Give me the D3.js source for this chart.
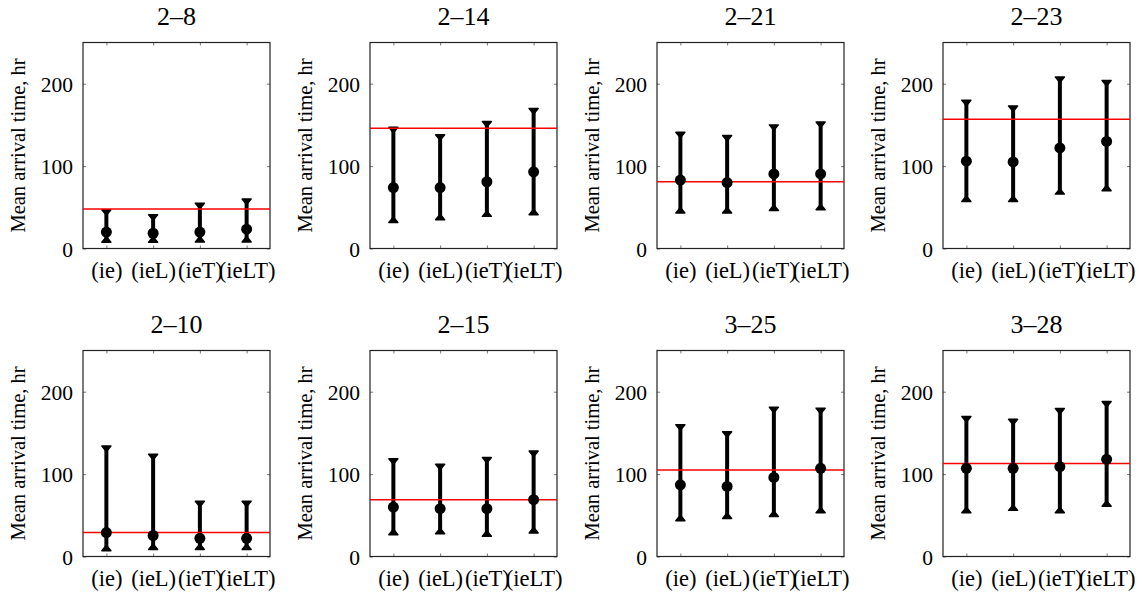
<!DOCTYPE html>
<html>
<head>
<meta charset="utf-8">
<script src="https://cdn.jsdelivr.net/npm/d3@7"></script>
<style>
  html, body { margin: 0; padding: 0; background: #fff; }
  svg { display: block; }
  text { font-family: "Liberation Serif", "Times New Roman", serif; fill: #000; }
</style>
</head>
<body>
<svg id="chart" width="1143" height="595"></svg>
<script>
// ---- data ----
const categories = ["(ie)", "(ieL)", "(ieT)", "(ieLT)"];
const panelTitles = ["2\u20138", "2\u201314", "2\u201321", "2\u201323", "2\u201310", "2\u201315", "3\u201325", "3\u201328"];
const meanValues = [
  [20, 18.5, 20, 23.5],
  [74, 74, 81, 93],
  [83, 80, 90.5, 90.5],
  [106, 105, 122, 130],
  [29, 25.5, 22, 22],
  [60, 58, 58, 69],
  [87, 85, 96, 107],
  [107, 107, 109, 118]
];
const lowerValues = [
  [7.5, 7.5, 8, 8],
  [31.5, 35, 39, 41],
  [43, 43, 46, 47],
  [57, 57, 66, 70],
  [7, 8.5, 8.5, 8.5],
  [26.5, 27.5, 24.5, 28.5],
  [43.5, 46, 48.5, 53],
  [53, 56, 53, 61]
];
const upperValues = [
  [47, 41, 55, 60],
  [147, 138, 154, 170],
  [141, 137, 150, 153.5],
  [180, 173, 208, 204],
  [134, 124, 67, 67],
  [118.5, 112, 120, 128],
  [160, 151.5, 181, 180],
  [170, 166.5, 179.5, 188]
];
const referenceValues = [48, 146, 81, 157, 29, 69, 105, 113];
const yTicks = [0, 100, 200];
const yLabel = "Mean arrival time, hr";

// ---- layout ----
const svg = d3.select("#chart");
const boxW = 187, boxH = 206;
const colLeft = [83, 370, 657, 943];
const rowTop = [42.5, 350.5];

const x = d3.scalePoint().domain(categories).range([boxW / 8, boxW - boxW / 8]);
const y = d3.scaleLinear().domain([0, 250]).range([boxH, 0]);

panelTitles.forEach((title, p) => {
  const col = p % 4, row = Math.floor(p / 4);
  const g = svg.append("g").attr("transform", `translate(${colLeft[col]},${rowTop[row]})`);

  // axes with inward ticks
  const tickCol = "#555";
  const ax = g.append("g").attr("transform", `translate(0,${boxH})`)
    .call(d3.axisBottom(x).tickSize(-3).tickPadding(0));
  ax.selectAll("text").attr("y", 29).attr("dy", 0).style("font-size", "22.5px");
  g.append("g").call(d3.axisTop(x).tickSize(-3).tickFormat(""));
  const ay = g.append("g").call(d3.axisLeft(y).tickValues(yTicks).tickSize(-3).tickPadding(10));
  ay.selectAll("text").attr("dy", "0.35em").style("font-size", "21.5px");
  g.append("g").attr("transform", `translate(${boxW},0)`)
    .call(d3.axisRight(y).tickValues(yTicks).tickSize(-3).tickFormat(""));
  g.selectAll(".domain").remove();
  g.selectAll(".tick line").attr("stroke", tickCol).attr("stroke-width", 0.8);

  // box
  g.append("rect").attr("x", 0).attr("y", 0).attr("width", boxW).attr("height", boxH)
    .attr("fill", "none").attr("stroke", "#222").attr("stroke-width", 1.2);

  // title
  g.append("text").attr("x", boxW / 2).attr("y", -17.5).attr("text-anchor", "middle")
    .style("font-size", "26px").text(title);

  // y label
  g.append("text")
    .attr("transform", `translate(-58,${boxH / 2}) rotate(-90)`)
    .attr("text-anchor", "middle").style("font-size", "20.5px").text(yLabel);

  // error bars
  const rows = categories.map((c, i) => ({
    c, m: meanValues[p][i], lo: lowerValues[p][i], hi: upperValues[p][i]
  }));
  const eb = g.append("g");
  const cw = 4.5, ch = 5.5;
  rows.forEach(d => {
    const cx = x(d.c);
    eb.append("line").attr("x1", cx).attr("x2", cx).attr("y1", y(d.hi)).attr("y2", y(d.lo))
      .attr("stroke", "#000").attr("stroke-width", 4);
    eb.append("path")
      .attr("d", `M${cx - cw},${y(d.hi)}L${cx + cw},${y(d.hi)}L${cx},${y(d.hi) + ch}Z`)
      .attr("fill", "#000").attr("stroke", "#000").attr("stroke-width", 1.5).attr("stroke-linejoin", "round");
    eb.append("path")
      .attr("d", `M${cx - cw},${y(d.lo)}L${cx + cw},${y(d.lo)}L${cx},${y(d.lo) - ch}Z`)
      .attr("fill", "#000").attr("stroke", "#000").attr("stroke-width", 1.5).attr("stroke-linejoin", "round");
  });

  // reference line
  g.append("line").attr("x1", 0).attr("x2", boxW)
    .attr("y1", y(referenceValues[p])).attr("y2", y(referenceValues[p]))
    .attr("stroke", "#ff0000").attr("stroke-width", 1.5);

  // means
  g.append("g").selectAll("circle").data(rows).join("circle")
    .attr("cx", d => x(d.c)).attr("cy", d => y(d.m)).attr("r", 5.5).attr("fill", "#000");
});
</script>
</body>
</html>
